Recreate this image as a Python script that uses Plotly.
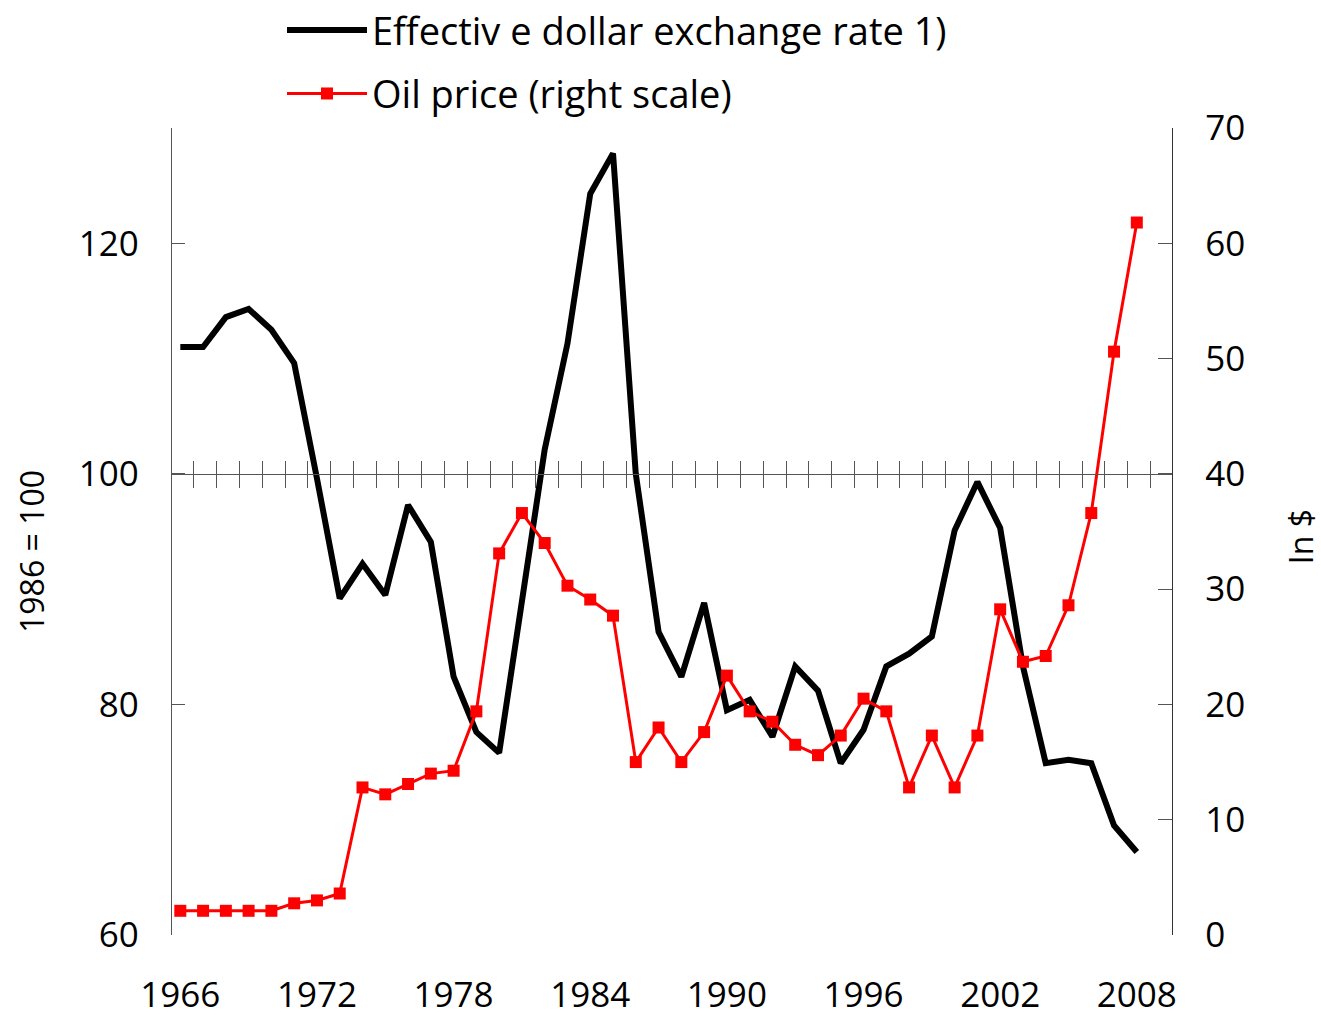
import plotly.graph_objects as go

years = list(range(1966, 2009))
dollar_rate = [111.0, 111.0, 113.6, 114.3, 112.5, 109.6, 99.6, 89.2, 92.2, 89.5,
               97.3, 94.1, 82.4, 77.6, 75.8, 89.3, 102.1, 111.3, 124.3, 127.8,
               100.0, 86.3, 82.4, 88.8, 79.5, 80.4, 77.2, 83.3, 81.2, 74.9,
               77.8, 83.3, 84.4, 85.9, 95.1, 99.3, 95.3, 83.3, 74.9, 75.2,
               74.9, 69.5, 67.2]
oil_price = [2.1, 2.1, 2.1, 2.1, 2.1, 2.75, 3.0, 3.6, 12.8, 12.2,
             13.1, 14.0, 14.25, 19.4, 33.1, 36.6, 34.0, 30.3, 29.1, 27.7,
             15.0, 18.0, 15.0, 17.6, 22.5, 19.4, 18.5, 16.5, 15.6, 17.3,
             20.5, 19.4, 12.8, 17.3, 12.8, 17.3, 28.25, 23.7, 24.2, 28.6,
             36.6, 50.6, 61.8]
year_labels = [1966, 1972, 1978, 1984, 1990, 1996, 2002, 2008]
left_ticks = [60, 80, 100, 120]
right_ticks = [0, 10, 20, 30, 40, 50, 60, 70]
year_dividers = [y + 0.6 for y in years]

FONT = "Open Sans"
AX = "#555555"
xr = [1965.635, 2009.545]

fig = go.Figure()
fig.add_trace(go.Scatter(
    x=years, y=dollar_rate, name="Effectiv e dollar exchange rate 1)",
    mode="lines", line=dict(color="black", width=6),
    legendgroup="a", yaxis="y"))
fig.add_trace(go.Scatter(
    x=years, y=oil_price, name="Oil price (right scale)",
    mode="lines+markers", line=dict(color="#ff0000", width=3),
    marker=dict(symbol="square", size=12, color="#ff0000"),
    legendgroup="b", yaxis="y2"))
# carrier traces for the crossing tick axis at 100
fig.add_trace(go.Scatter(x=[], y=[], xaxis="x2", yaxis="y", showlegend=False, hoverinfo="skip"))
fig.add_trace(go.Scatter(x=[], y=[], xaxis="x3", yaxis="y", showlegend=False, hoverinfo="skip"))

fig.update_layout(
    width=1321, height=1021,
    margin=dict(l=172, r=149, t=128, b=86, autoexpand=False),
    paper_bgcolor="white", plot_bgcolor="white",
    font=dict(family=FONT, size=35, color="black"),
    showlegend=True,
    legend=dict(x=0.11, xref="paper", y=1.16, yref="paper",
                xanchor="left", yanchor="top", itemwidth=80,
                font=dict(family=FONT, size=38, color="black"),
                tracegroupgap=11, bgcolor="rgba(0,0,0,0)"),
    xaxis=dict(range=xr, tickvals=year_labels, ticks="", showline=False,
               showgrid=False, zeroline=False, ticklabelstandoff=36,
               automargin=False, tickfont=dict(size=35)),
    xaxis2=dict(overlaying="x", anchor="free", position=(100 - 60) / 70,
                range=xr, tickvals=year_dividers, ticks="outside", ticklen=13,
                tickcolor=AX, tickwidth=1.3, showline=True, linecolor=AX,
                linewidth=1.3, showticklabels=False, showgrid=False,
                zeroline=False, automargin=False),
    xaxis3=dict(overlaying="x", anchor="free", position=(100 - 60) / 70,
                range=xr, tickvals=year_dividers, ticks="inside", ticklen=13,
                tickcolor=AX, tickwidth=1.3, showline=False,
                showticklabels=False, showgrid=False, zeroline=False,
                automargin=False),
    yaxis=dict(range=[60, 130], tickvals=left_ticks, ticks="inside", ticklen=13,
               tickcolor=AX, tickwidth=1.3, showline=True, linecolor=AX,
               linewidth=1.3, showgrid=False, zeroline=False, automargin=False,
               ticklabelstandoff=25, tickfont=dict(size=35)),
    yaxis2=dict(range=[0, 70], tickvals=right_ticks, overlaying="y", side="right",
                ticks="inside", ticklen=14, tickcolor=AX, tickwidth=1.3,
                showline=True, linecolor="#333333", linewidth=1.3,
                showgrid=False, zeroline=False, automargin=False,
                ticklabelstandoff=25, tickfont=dict(size=35)),
    annotations=[
        dict(text="1986 = 100", xref="paper", yref="paper", x=-0.14, y=0.4746,
             xanchor="center", yanchor="middle",
             textangle=-90, showarrow=False, font=dict(family=FONT, size=32)),
        dict(text="In $", xref="paper", yref="paper", x=1.128, y=0.493,
             xanchor="center", yanchor="middle",
             textangle=-90, showarrow=False, font=dict(family=FONT, size=32)),
    ],
)

fig.write_html("out.html", config={"displayModeBar": False},
               post_script="document.body.style.margin='0';document.body.style.overflow='hidden';")
